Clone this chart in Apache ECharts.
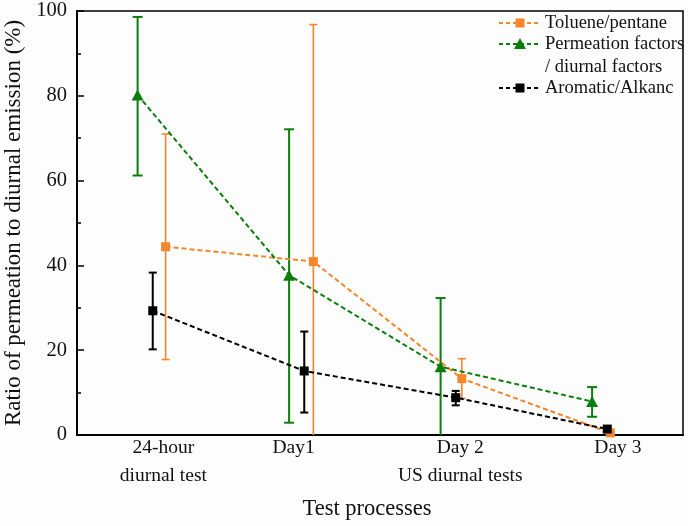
<!DOCTYPE html>
<html><head><meta charset="utf-8">
<script src="https://cdn.jsdelivr.net/npm/echarts@6/dist/echarts.min.js"></script>
<style>html,body{margin:0;padding:0;background:#fdfdfd}#c{width:688px;height:526px}</style>
</head><body><div id="c"></div>
<script>
// ---- data ----
const seriesNames = ['Toluene/pentane', 'Permeation factors\n/ diurnal factors', 'Aromatic/Alkanc'];
const tolueneX = [0.585, 1.56, 2.54, 3.52];
const tolueneY = [44.4, 40.9, 13.3, 0.5];
const tolueneLow = [17.8, -5, 8.6, 0.5];
const tolueneHigh = [71.0, 96.8, 18.0, 0.5];
const permX = [0.4, 1.4, 2.4, 3.4];
const permY = [80.2, 37.7, 16.1, 7.9];
const permLow = [61.2, 2.9, -5, 4.3];
const permHigh = [98.6, 72.1, 32.3, 11.3];
const aromX = [0.5, 1.5, 2.5, 3.5];
const aromY = [29.3, 15.1, 8.8, 1.4];
const aromLow = [20.2, 5.3, 7.0, 1.0];
const aromHigh = [38.3, 24.4, 10.4, 1.8];
const xTickValues = [0.57, 1.43, 2.53, 3.57];
const xTickLabels = ['24-hour\ndiurnal test', 'Day1', 'Day 2\nUS diurnal tests', 'Day 3'];
const xAxisTitle = 'Test processes';
const yAxisTitle = 'Ratio of permeation to diurnal emission (%)';

const ORANGE = '#F5862B', GREEN = '#0B7D0B', BLACK = '#000000';
const FONT = "'Liberation Serif', 'DejaVu Serif', serif";

function errRender(color, width, cap) {
  return function (params, api) {
    const x = api.value(0), lo = api.value(1), hi = api.value(2);
    const yMin = 0;
    const top = api.coord([x, hi]);
    const bot = api.coord([x, Math.max(lo, yMin)]);
    const style = { stroke: color, lineWidth: width };
    const ch = [
      { type: 'line', shape: { x1: top[0], y1: top[1], x2: bot[0], y2: bot[1] }, style: style },
      { type: 'line', shape: { x1: top[0] - cap, y1: top[1], x2: top[0] + cap, y2: top[1] }, style: style }
    ];
    if (lo >= yMin) ch.push({ type: 'line', shape: { x1: bot[0] - cap, y1: bot[1], x2: bot[0] + cap, y2: bot[1] }, style: style });
    return { type: 'group', children: ch };
  };
}
function pairs(xs, ys) { return xs.map((x, i) => [x, ys[i]]); }
function errs(xs, lo, hi) { return xs.map((x, i) => [x, lo[i], hi[i]]); }

const chart = echarts.init(document.getElementById('c'), null, { renderer: 'canvas' });

const lineCommon = { type: 'line', z: 5, clip: true, animation: false };

// legend graphic
const legendRows = [
  { y: 23, color: ORANGE, sym: 'rect', text: seriesNames[0] },
  { y: 44, color: GREEN, sym: 'tri', text: seriesNames[1] },
  { y: 88, color: BLACK, sym: 'rect', text: seriesNames[2] }
];
const legendEls = [];
legendRows.forEach(r => {
  legendEls.push({ type: 'line', shape: { x1: 499, y1: r.y, x2: 541, y2: r.y }, style: { stroke: r.color, lineWidth: 2, lineDash: [4, 3] } });
  if (r.sym === 'rect') legendEls.push({ type: 'rect', shape: { x: 515.5, y: r.y - 4.5, width: 9, height: 9 }, style: { fill: r.color } });
  else legendEls.push({ type: 'polygon', shape: { points: [[520, r.y - 6], [526, r.y + 5], [514, r.y + 5]] }, style: { fill: r.color } });
  legendEls.push({ type: 'text', x: 545, y: r.y - 11.5, style: { text: r.text, fill: '#111', font: '18.5px ' + FONT, lineHeight: 23, verticalAlign: 'top' } });
});

chart.setOption({
  backgroundColor: '#fdfdfd',
  animation: false,
  grid: { left: 77, right: 5, top: 11, bottom: 91, show: true, borderColor: '#000', borderWidth: 1.5, backgroundColor: 'transparent', containLabel: false, outerBoundsMode: 'none' },
  xAxis: {
    type: 'value', min: 0, max: 4,
    name: xAxisTitle, nameLocation: 'middle', nameGap: 63,
    nameTextStyle: { fontFamily: FONT, fontSize: 22.5, color: '#111', padding: [0, 26, 0, 0] },
    axisLine: { show: true, lineStyle: { color: '#000', width: 1.8 } },
    axisTick: { show: false },
    splitLine: { show: false },
    axisLabel: {
      customValues: xTickValues,
      formatter: function (v) { const i = xTickValues.findIndex(t => Math.abs(t - v) < 1e-6); return i >= 0 ? xTickLabels[i] : ''; },
      fontFamily: FONT, fontSize: 19.5, color: '#111', lineHeight: 28, margin: -1
    }
  },
  yAxis: [{
    type: 'value', min: 0, max: 100, interval: 20,
    name: yAxisTitle, nameLocation: 'middle', nameGap: 41,
    nameTextStyle: { fontFamily: FONT, fontSize: 23, color: '#111' },
    axisLine: { show: true, lineStyle: { color: '#000', width: 1.8 } },
    axisTick: { show: true, inside: true, length: 7, lineStyle: { color: '#000', width: 1.5 } },
    splitLine: { show: false },
    axisLabel: { fontFamily: FONT, fontSize: 20.5, color: '#111', margin: 10 }
  }, {
    // minor ticks (every 10), drawn inside
    type: 'value', min: 0, max: 100, interval: 10, position: 'left', offset: 0,
    axisLine: { show: false },
    axisTick: { show: true, inside: true, length: 4, lineStyle: { color: '#000', width: 1.5 } },
    axisLabel: { show: false },
    splitLine: { show: false }
  }],
  graphic: legendEls,
  series: [
    { type: 'custom', name: 'err-toluene', data: errs(tolueneX, tolueneLow, tolueneHigh), renderItem: errRender(ORANGE, 1.6, 4), encode: { x: 0, y: [1, 2] }, z: 2, silent: true },
    { type: 'custom', name: 'err-perm', data: errs(permX, permLow, permHigh), renderItem: errRender(GREEN, 2, 5), encode: { x: 0, y: [1, 2] }, z: 2, silent: true },
    { type: 'custom', name: 'err-arom', data: errs(aromX, aromLow, aromHigh), renderItem: errRender(BLACK, 2, 4), encode: { x: 0, y: [1, 2] }, z: 2, silent: true },
    Object.assign({}, lineCommon, { name: seriesNames[0], data: pairs(tolueneX, tolueneY), symbol: 'rect', symbolSize: 9, itemStyle: { color: ORANGE }, lineStyle: { type: [5, 3], width: 2, color: ORANGE } }),
    Object.assign({}, lineCommon, { name: seriesNames[1], data: pairs(permX, permY), symbol: 'triangle', symbolSize: [12, 11], itemStyle: { color: GREEN }, lineStyle: { type: [5, 3], width: 2, color: GREEN } }),
    Object.assign({}, lineCommon, { name: seriesNames[2], data: pairs(aromX, aromY), symbol: 'rect', symbolSize: 9, itemStyle: { color: BLACK }, lineStyle: { type: [5, 3], width: 2, color: BLACK } })
  ]
});
</script></body></html>
